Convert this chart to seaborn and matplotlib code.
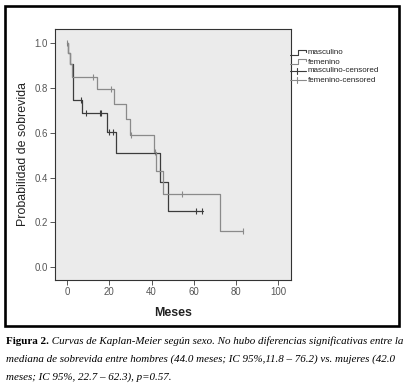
import matplotlib
matplotlib.use("Agg")
import matplotlib.pyplot as plt
from matplotlib.lines import Line2D
import seaborn as sns
import pandas as pd

# ---- data ----
masc_t = [0, 0.6, 1.5, 3.0, 7.3, 19.0, 23.0, 44.0, 48.0, 64.3]
masc_s = [1.0, 0.955, 0.906, 0.747, 0.687, 0.605, 0.509, 0.379, 0.253, 0.253]
fem_t = [0, 0.6, 1.5, 2.5, 14.0, 22.0, 28.0, 30.0, 41.0, 42.3, 45.2, 72.2, 83.5]
fem_s = [1.0, 0.955, 0.906, 0.851, 0.794, 0.727, 0.662, 0.590, 0.515, 0.431, 0.327, 0.162, 0.162]
masc_cens_t = [6.8, 9.0, 15.5, 16.3, 19.8, 21.6, 61.0, 63.8]
masc_cens_s = [0.747, 0.687, 0.687, 0.687, 0.605, 0.605, 0.253, 0.253]
fem_cens_t = [0.2, 12.5, 21.0, 30.5, 41.6, 44.2, 54.4, 83.5]
fem_cens_s = [1.0, 0.851, 0.794, 0.590, 0.515, 0.431, 0.327, 0.162]
groups = ["masculino", "femenino"]
legend_labels = ["masculino", "femenino", "masculino-censored", "femenino-censored"]
x_ticks = [0, 20, 40, 60, 80, 100]
y_ticks = [0.0, 0.2, 0.4, 0.6, 0.8, 1.0]
x_label = "Meses"
y_label = "Probabilidad de sobrevida"
cap_bold = "Figura 2."
cap_lines = [
    " Curvas de Kaplan-Meier según sexo. No hubo diferencias significativas entre la",
    "mediana de sobrevida entre hombres (44.0 meses; IC 95%,11.8 \u2013 76.2) vs. mujeres (42.0",
    "meses; IC 95%, 22.7 \u2013 62.3), p=0.57.",
]

curves = pd.concat([
    pd.DataFrame({"t": masc_t, "s": masc_s, "g": groups[0]}),
    pd.DataFrame({"t": fem_t, "s": fem_s, "g": groups[1]}),
])
cens = pd.concat([
    pd.DataFrame({"t": masc_cens_t, "s": masc_cens_s, "g": groups[0]}),
    pd.DataFrame({"t": fem_cens_t, "s": fem_cens_s, "g": groups[1]}),
])

sns.set_theme(style="white")
plt.rcParams["font.family"] = ["Liberation Sans", "DejaVu Sans"]

W, H = 409, 392
fig = plt.figure(figsize=(W / 100, H / 100), dpi=100)
fig.patch.set_facecolor("white")

def fx(x):
    return x / W

def fy(y):
    return 1 - y / H

ax = fig.add_axes([fx(55), fy(280), fx(291) - fx(55), fy(29) - fy(280)])
ax.set_facecolor("#ebebeb")

pal = {"masculino": "#3c3c3c", "femenino": "#8a8a8a"}
for g in groups:
    d = curves[curves.g == g]
    sns.lineplot(data=d, x="t", y="s", ax=ax, color=pal[g], lw=0.9,
                 drawstyle="steps-post", estimator=None, sort=False, legend=False)
    c = cens[cens.g == g]
    sns.scatterplot(data=c, x="t", y="s", ax=ax, color=pal[g], marker="|",
                    s=22, linewidth=0.8, legend=False)

ax.set_xlim(-5.7, 106)
ax.set_ylim(-0.057, 1.064)
ax.set_xticks(x_ticks)
ax.set_xticklabels([str(v) for v in x_ticks])
ax.set_yticks(y_ticks)
ax.set_yticklabels([f"{v:.1f}" for v in y_ticks])
ax.tick_params(axis="both", direction="out", length=3.5, width=0.7,
               color="#555555", labelsize=6.9, labelcolor="#555555", pad=1.5)
ax.tick_params(left=True, bottom=True)
for sp in ax.spines.values():
    sp.set_color("#333333")
    sp.set_linewidth(0.8)
ax.set_xlabel(x_label, fontsize=8.9, fontweight="bold", color="#222222", labelpad=7)
ax.set_ylabel(y_label, fontsize=8.9, color="#222222", labelpad=4)

# legend (manual, SPSS style)
leg_y = [53, 62, 71, 80]
for i, lab in enumerate(legend_labels):
    y = leg_y[i]
    col = pal[groups[i % 2]]
    if i < 2:
        xs = [fx(290), fx(298), fx(298), fx(306), fx(306)]
        ys = [fy(y + 1.5), fy(y + 1.5), fy(y - 3), fy(y - 3), fy(y - 1)]
        fig.add_artist(Line2D(xs, ys, color=col, lw=0.8))
    else:
        fig.add_artist(Line2D([fx(290), fx(306)], [fy(y), fy(y)], color=col, lw=0.8))
        fig.add_artist(Line2D([fx(297), fx(297)], [fy(y - 3), fy(y + 3)], color=col, lw=0.8))
    fig.text(fx(308), fy(y), lab, fontsize=5.8, color="#222222", va="center", ha="left")

# outer frame
fig.add_artist(plt.Rectangle((fx(5), fy(326)), fx(399) - fx(5), fy(6) - fy(326),
                             fill=False, ec="black", lw=1.9, transform=fig.transFigure))

# caption
serif = ["Liberation Serif", "DejaVu Serif"]
cs = 7.9
r = fig.canvas.get_renderer()
tb = fig.text(fx(6), fy(341), cap_bold, fontsize=cs, fontweight="bold",
              family=serif, va="center", ha="left", color="black")
bb = tb.get_window_extent(renderer=r)
fig.text(bb.x1 / W, fy(341), cap_lines[0], fontsize=cs, style="italic",
         family=serif, va="center", ha="left", color="black")
fig.text(fx(6), fy(359), cap_lines[1], fontsize=cs, style="italic",
         family=serif, va="center", ha="left", color="black")
fig.text(fx(6), fy(377), cap_lines[2], fontsize=cs, style="italic",
         family=serif, va="center", ha="left", color="black")

fig.savefig("out.png", dpi=100)
